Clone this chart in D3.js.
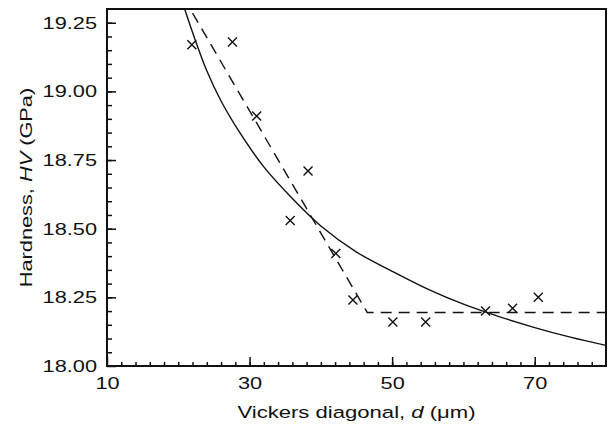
<!DOCTYPE html>
<html>
<head>
<meta charset="utf-8">
<script src="https://cdn.jsdelivr.net/npm/d3@7"></script>
<style>
  body { margin: 0; background: #fff; }
  svg text { font-family: "Liberation Sans", Arial, sans-serif; fill: #111; }
</style>
</head>
<body>
<svg width="614" height="434"></svg>
<script>
window.onload = () => {

  // measured points (x marks)
  const diagonal = [21.9, 27.6, 31.0, 35.7, 38.2, 42.1, 44.5, 50.1, 54.7, 63.1, 66.9, 70.5];
  const hardness = [19.17, 19.18, 18.91, 18.53, 18.71, 18.41, 18.24, 18.16, 18.16, 18.20, 18.21, 18.25];

  // solid fitted curve
  const curveD = [20.9, 22, 24, 26, 28.5, 32, 36, 40, 45, 50, 55, 60, 65, 70, 75, 80];
  const curveHV = [19.30, 19.215, 19.075, 18.965, 18.855, 18.725, 18.61, 18.51, 18.415, 18.345, 18.28, 18.225, 18.18, 18.14, 18.105, 18.075];

  // dashed bilinear line
  const dashD = [22, 46.5, 80];
  const dashHV = [19.285, 18.195, 18.195];

  const xTicks = [10, 30, 50, 70];
  const yTicks = [18.00, 18.25, 18.50, 18.75, 19.00, 19.25];

  const fs = 17;   // font size
  const k = 1.28;  // the reference type is set wide

  const margin = {left: 107, top: 9, right: 8, bottom: 68};
  const width = 614 - margin.left - margin.right;
  const height = 434 - margin.top - margin.bottom;

  const svg = d3.select('svg');
  const g = svg.append('g').attr('transform', 'translate(' + margin.left + ',' + margin.top + ')');

  const xScale = d3.scaleLinear().domain([10, 80]).range([0, width]);
  const yScale = d3.scaleLinear().domain([18, 19.3]).range([height, 0]);

  g.append('clipPath').attr('id', 'clip')
    .append('rect').attr('width', width).attr('height', height);

  // minor ticks
  g.append('g')
    .attr('transform', 'translate(0,' + height + ')')
    .call(d3.axisBottom(xScale).tickValues(d3.range(12, 80, 2)).tickSize(-4).tickFormat(''))
    .call(a => a.select('.domain').remove());
  g.append('g')
    .call(d3.axisLeft(yScale).tickValues(d3.range(18.05, 19.3, 0.05)).tickSize(-5).tickFormat(''))
    .call(a => a.select('.domain').remove());

  // major ticks
  const xAxis = g.append('g')
    .attr('transform', 'translate(0,' + height + ')')
    .call(d3.axisBottom(xScale).tickValues(xTicks).tickSize(-9).tickPadding(11).tickFormat(d3.format('d')));
  xAxis.select('.domain').remove();
  xAxis.selectAll('text')
    .attr('font-size', fs).attr('fill', '#111')
    .attr('transform', 'scale(' + k + ',1)');

  const yAxis = g.append('g')
    .call(d3.axisLeft(yScale).tickValues(yTicks).tickSize(-9).tickFormat(d3.format('.2f')));
  yAxis.select('.domain').remove();
  yAxis.selectAll('text')
    .attr('font-size', fs).attr('fill', '#111')
    .attr('x', -10 / k)
    .attr('transform', 'scale(' + k + ',1)');

  g.selectAll('.tick line').attr('stroke', '#111').attr('stroke-width', 1.5);

  // frame
  g.append('rect')
    .attr('width', width).attr('height', height)
    .attr('fill', 'none').attr('stroke', '#111').attr('stroke-width', 2);

  const plot = g.append('g').attr('clip-path', 'url(#clip)');

  const line = d3.line()
    .x(d => xScale(d[0]))
    .y(d => yScale(d[1]));

  plot.append('path')
    .datum(d3.zip(curveD, curveHV))
    .attr('d', line.curve(d3.curveCatmullRom))
    .attr('fill', 'none').attr('stroke', '#111').attr('stroke-width', 1.4);

  plot.append('path')
    .datum(d3.zip(dashD, dashHV))
    .attr('d', line.curve(d3.curveLinear))
    .attr('fill', 'none').attr('stroke', '#111').attr('stroke-width', 1.4)
    .attr('stroke-dasharray', '11,7');

  const s = 4.5;
  g.selectAll('.mark')
    .data(d3.zip(diagonal, hardness))
    .enter()
    .append('path')
    .attr('class', 'mark')
    .attr('d', d => {
      const x = xScale(d[0]), y = yScale(d[1]);
      return 'M' + (x - s) + ',' + (y - s) + 'L' + (x + s) + ',' + (y + s) +
             'M' + (x - s) + ',' + (y + s) + 'L' + (x + s) + ',' + (y - s);
    })
    .attr('stroke', '#111').attr('stroke-width', 1.4);

  // axis titles
  const xt = svg.append('text')
    .attr('transform', 'translate(' + (margin.left + width / 2) + ',418) scale(1.3,1)')
    .attr('text-anchor', 'middle').attr('font-size', fs);
  xt.append('tspan').text('Vickers diagonal, ');
  xt.append('tspan').attr('font-style', 'italic').text('d');
  xt.append('tspan').text(' (μm)');

  const yt = svg.append('text')
    .attr('transform', 'translate(32,' + (margin.top + height / 2) + ') rotate(-90) scale(' + k + ',1)')
    .attr('text-anchor', 'middle').attr('font-size', fs);
  yt.append('tspan').text('Hardness, ');
  yt.append('tspan').attr('font-style', 'italic').text('HV');
  yt.append('tspan').text(' (GPa)');
};
</script>
</body>
</html>
